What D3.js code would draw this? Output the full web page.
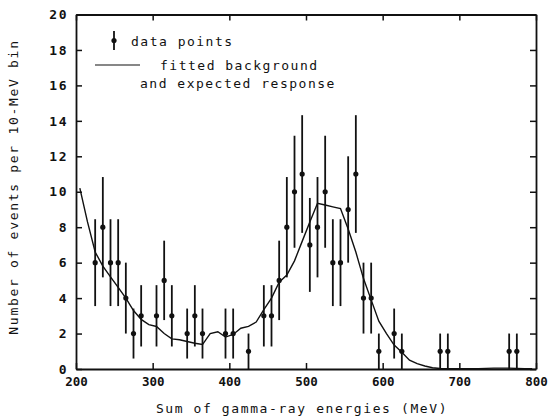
<!DOCTYPE html>
<html lang="en">
<head>
<meta charset="utf-8">
<title>Sum of gamma-ray energies</title>
<script src="https://d3js.org/d3.v7.min.js"></script>
<style>
  body { margin: 0; background: #fff; }
  svg { display: block; }
  text { font-family: "DejaVu Sans Mono", monospace; fill: #111; }
</style>
</head>
<body>
<svg width="548" height="418"></svg>
<script>

// bin centres (MeV), counts and error bars
var binCentres = [225, 235, 245, 255, 265, 275, 285, 305, 315, 325, 345, 355, 365,
                  395, 405, 425, 445, 455, 465, 475, 485, 495, 505, 515, 525, 535,
                  545, 555, 565, 575, 585, 595, 615, 625, 675, 685, 765, 775];
var counts = [6, 8, 6, 6, 4, 2, 3, 3, 5, 3, 2, 3, 2,
              2, 2, 1, 3, 3, 5, 8, 10, 11, 7, 8, 10, 6,
              6, 9, 11, 4, 4, 1, 2, 1, 1, 1, 1, 1];
var errors = [2.45, 2.83, 2.45, 2.45, 2.0, 1.41, 1.73, 1.73, 2.24, 1.73, 1.41, 1.73, 1.41,
              1.41, 1.41, 1.0, 1.73, 1.73, 2.24, 2.83, 3.16, 3.32, 2.65, 2.83, 3.16, 2.45,
              2.45, 3.0, 3.32, 2.0, 2.0, 1.0, 1.41, 1.0, 1.0, 1.0, 1.0, 1.0];

// fitted background + expected response
var fitEnergy = [205, 215, 225, 235, 245, 255, 265, 275, 285, 295, 305, 315, 325, 335,
                 345, 355, 365, 375, 385, 395, 405, 415, 425, 435, 445, 455, 465, 475,
                 485, 495, 505, 515, 525, 535, 545, 555, 565, 575, 585, 595, 605, 615,
                 625, 635, 645, 655, 665, 675, 685, 705, 725, 745, 765, 785, 795];
var fitValue = [10.2, 8.3, 6.6, 5.8, 5.2, 4.6, 4.0, 3.3, 2.8, 2.5, 2.4, 2.0, 1.7, 1.65,
                1.55, 1.45, 1.38, 2.0, 2.1, 1.8, 1.95, 2.3, 2.4, 2.65, 3.35, 4.0, 4.9, 5.3,
                6.1, 7.2, 8.3, 9.35, 9.25, 9.15, 9.05, 7.9, 6.6, 5.1, 3.9, 2.7, 2.0, 1.35,
                0.95, 0.5, 0.3, 0.17, 0.07, 0.03, 0.01, 0.01, 0.02, 0.05, 0.05, 0.01, 0.01];

var xTicks = [200, 300, 400, 500, 600, 700, 800];
var yTicks = [0, 2, 4, 6, 8, 10, 12, 14, 16, 18, 20];

var svg = d3.select("svg");

var x = d3.scaleLinear().domain([200, 800]).range([76, 536]);
var y = d3.scaleLinear().domain([0, 20]).range([369, 14.5]);

// axes, ticks pointing inward on all four sides
var left = svg.append("g").attr("transform", "translate(76,0)")
    .call(d3.axisLeft(y).tickValues(yTicks).tickSize(-6).tickSizeOuter(0).tickPadding(8));
var bottom = svg.append("g").attr("transform", "translate(0,369)")
    .call(d3.axisBottom(x).tickValues(xTicks).tickSize(-6).tickSizeOuter(0).tickPadding(8));
var right = svg.append("g").attr("transform", "translate(536,0)")
    .call(d3.axisRight(y).tickValues(yTicks).tickSize(-6).tickSizeOuter(0).tickFormat(""));
var top = svg.append("g").attr("transform", "translate(0,14.5)")
    .call(d3.axisTop(x).tickValues(xTicks).tickSize(-6).tickSizeOuter(0).tickFormat(""));

svg.selectAll(".domain").attr("stroke", "#111").attr("stroke-width", 1.8);
svg.selectAll(".tick line").attr("stroke", "#111").attr("stroke-width", 1.5);
svg.selectAll(".tick text")
    .style("font-family", "'DejaVu Sans Mono', monospace")
    .style("font-size", "13px")
    .style("font-weight", "bold")
    .attr("fill", "#111");
left.selectAll(".tick text").style("letter-spacing", "1.5px");
bottom.selectAll(".tick text").style("font-size", "12.5px");

// fitted curve
var line = d3.line()
    .x(function(d, i) { return x(fitEnergy[i]); })
    .y(function(d) { return y(d); });

svg.append("path")
    .datum(fitValue)
    .attr("fill", "none")
    .attr("stroke", "#111")
    .attr("stroke-width", 1.4)
    .attr("d", line);

// data points with error bars
var pts = svg.append("g").selectAll("g")
    .data(counts)
    .enter().append("g");

pts.append("line")
    .attr("x1", function(d, i) { return x(binCentres[i]); })
    .attr("x2", function(d, i) { return x(binCentres[i]); })
    .attr("y1", function(d, i) { return y(Math.max(0, d - errors[i])); })
    .attr("y2", function(d, i) { return y(d + errors[i]); })
    .attr("stroke", "#111")
    .attr("stroke-width", 1.8);

pts.append("circle")
    .attr("cx", function(d, i) { return x(binCentres[i]); })
    .attr("cy", function(d) { return y(d); })
    .attr("r", 2.6)
    .attr("fill", "#111");

// legend
var lg = svg.append("g");
lg.append("line").attr("x1", 114).attr("x2", 114).attr("y1", 31).attr("y2", 50)
    .attr("stroke", "#111").attr("stroke-width", 1.8);
lg.append("circle").attr("cx", 114).attr("cy", 40.5).attr("r", 2.6).attr("fill", "#111");
lg.append("text").attr("x", 131).attr("y", 46).text("data points")
    .style("font-size", "13px").style("letter-spacing", "1.5px");

lg.append("line").attr("x1", 95).attr("x2", 140).attr("y1", 65).attr("y2", 65)
    .attr("stroke", "#111").attr("stroke-width", 1.2);
lg.append("text").attr("x", 160).attr("y", 70).text("fitted background")
    .style("font-size", "13px").style("letter-spacing", "1.5px");
lg.append("text").attr("x", 140).attr("y", 88).text("and expected response")
    .style("font-size", "13px").style("letter-spacing", "1.5px");

// axis titles
svg.append("text")
    .attr("x", 302).attr("y", 413)
    .attr("text-anchor", "middle")
    .style("font-size", "13px").style("letter-spacing", "1.6px")
    .text("Sum of gamma-ray energies (MeV)");

svg.append("text")
    .attr("transform", "translate(18,187) rotate(-90)")
    .attr("text-anchor", "middle")
    .style("font-size", "13px").style("letter-spacing", "1.7px")
    .text("Number of events per 10-MeV bin");

</script>
</body>
</html>
